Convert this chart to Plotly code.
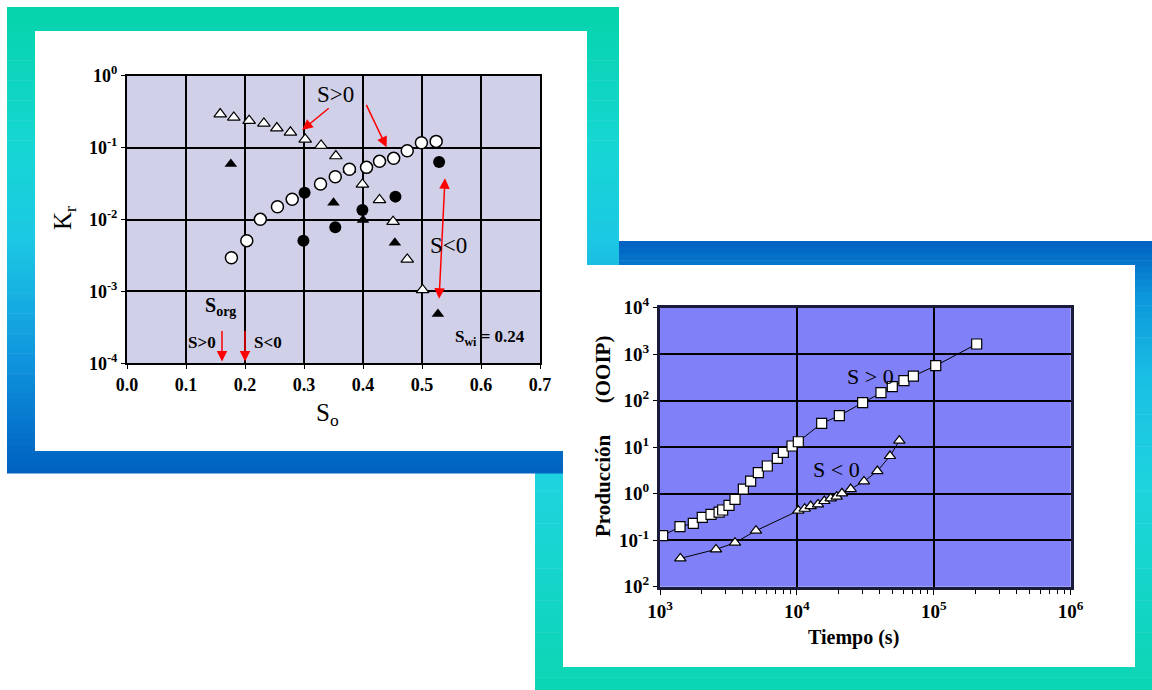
import plotly.graph_objects as go

W, H = 1152, 690

# ---------------- Left chart data (So vs Kr) ----------------
open_tri_so = [0.158, 0.181, 0.207, 0.232, 0.254, 0.277, 0.302, 0.329, 0.354, 0.377, 0.399, 0.428, 0.451, 0.475, 0.501]
open_tri_kr = [0.293, 0.263, 0.237, 0.217, 0.187, 0.163, 0.130, 0.107, 0.0764, 0.0499, 0.0308, 0.0187, 0.00933, 0.00279, 0.00105]

open_cir_so = [0.177, 0.203, 0.226, 0.255, 0.280, 0.328, 0.353, 0.377, 0.406, 0.428, 0.452, 0.475, 0.499, 0.524]
open_cir_kr = [0.00294, 0.00508, 0.01005, 0.01508, 0.0191, 0.0312, 0.0394, 0.0499, 0.0531, 0.0644, 0.0709, 0.0906, 0.117, 0.122]

fill_cir_so = [0.301, 0.299, 0.353, 0.399, 0.455, 0.529]
fill_cir_kr = [0.0236, 0.00508, 0.00778, 0.01355, 0.0208, 0.0630]

fill_tri_so = [0.176, 0.350, 0.400, 0.454, 0.527]
fill_tri_kr = [0.0591, 0.01714, 0.00984, 0.00476, 0.000485]

left_xticks = [0.0, 0.1, 0.2, 0.3, 0.4, 0.5, 0.6, 0.7]
left_xticktext = ["0.0", "0.1", "0.2", "0.3", "0.4", "0.5", "0.6", "0.7"]
left_yticks = [1e-4, 1e-3, 1e-2, 1e-1, 1e0]
left_yticktext = ["10<sup>-4</sup>", "10<sup>-3</sup>", "10<sup>-2</sup>", "10<sup>-1</sup>", "10<sup>0</sup>"]

# ---------------- Right chart data (time vs production) ----------------
sq_t = [1046, 1400, 1751, 2037, 2358, 2700, 2870, 3191, 3532, 4063, 4595, 5228, 6079, 7194, 7961, 9210,
        10240, 15170, 20420, 30220, 41120, 49740, 60520, 70920, 103300, 205700]
sq_p = [0.125, 0.195, 0.230, 0.310, 0.360, 0.40, 0.446, 0.561, 0.755, 1.26, 1.87, 2.83, 3.94, 5.75, 7.75, 10.6,
        13.1, 32.6, 47.6, 90.5, 148.6, 200, 269, 339, 566, 1656]

tr_t = [1408, 2565, 3532, 5024, 10240, 11400, 12610, 14270, 15860, 17650, 19520, 21350, 24710, 30910, 38700, 47870, 55990]
tr_p = [0.0406, 0.0635, 0.0883, 0.160, 0.431, 0.475, 0.543, 0.590, 0.696, 0.794, 0.861, 1.02, 1.26, 1.84, 3.07, 6.46, 13.8]

right_xticks = [1e3, 1e4, 1e5, 1e6]
right_xticktext = ["10<sup>3</sup>", "10<sup>4</sup>", "10<sup>5</sup>", "10<sup>6</sup>"]
right_yticks = [1e-2, 1e-1, 1e0, 1e1, 1e2, 1e3, 1e4]
right_yticktext = ["10<sup>2</sup>", "10<sup>-1</sup>", "10<sup>0</sup>", "10<sup>1</sup>", "10<sup>2</sup>", "10<sup>3</sup>", "10<sup>4</sup>"]
right_minor = [m * 10 ** e for e in (3, 4, 5) for m in range(2, 10)]

SERIF = "Liberation Serif"


def bold(lst):
    return ["<b>%s</b>" % s for s in lst]


def px(x):
    return x / W


def py(y):
    return 1 - y / H


def lerp_color(stops, t):
    for i in range(len(stops) - 1):
        t0, c0 = stops[i]
        t1, c1 = stops[i + 1]
        if t0 <= t <= t1:
            f = (t - t0) / (t1 - t0) if t1 > t0 else 0
            c = [round(c0[k] + (c1[k] - c0[k]) * f) for k in range(3)]
            return "rgb(%d,%d,%d)" % tuple(c)
    c = stops[-1][1]
    return "rgb(%d,%d,%d)" % tuple(c)


def gradient_rect(x0, y0, x1, y1, stops, n=70):
    out = []
    h = (y1 - y0) / n
    for i in range(n):
        t = (i + 0.5) / n
        out.append(dict(type="rect", xref="paper", yref="paper",
                        x0=px(x0), x1=px(x1), y0=py(y0 + i * h), y1=py(y0 + (i + 1) * h + 0.6),
                        fillcolor=lerp_color(stops, t), line=dict(width=0), layer="below"))
    return out


left_stops = [(0, (5, 212, 170)), (0.3, (22, 214, 212)), (0.5, (28, 200, 228)), (0.75, (16, 150, 222)), (1, (0, 96, 192))]
right_stops = [(0, (0, 96, 192)), (0.12, (12, 150, 218)), (0.3, (26, 190, 228)), (0.55, (30, 212, 222)), (1, (10, 214, 178))]

shapes = []
shapes += gradient_rect(535, 241, 1152, 690, right_stops)
shapes += gradient_rect(7, 7, 619, 473, left_stops)
shapes.append(dict(type="rect", xref="paper", yref="paper", x0=px(35), x1=px(587), y0=py(31), y1=py(451),
                   fillcolor="white", line=dict(width=0), layer="below"))
shapes.append(dict(type="rect", xref="paper", yref="paper", x0=px(563), x1=px(1135), y0=py(265), y1=py(667),
                   fillcolor="white", line=dict(width=0), layer="below"))
shapes.append(dict(type="rect", xref="x domain", yref="y domain", x0=0, x1=1, y0=0, y1=1,
                   fillcolor="#d0d0e8", line=dict(width=0), layer="below"))
shapes.append(dict(type="rect", xref="x2 domain", yref="y2 domain", x0=0, x1=1, y0=0, y1=1,
                   fillcolor="#8080f8", line=dict(width=0), layer="below"))

fig = go.Figure()

# Left chart traces
fig.add_trace(go.Scatter(x=open_tri_so, y=open_tri_kr, mode="markers", xaxis="x", yaxis="y",
                         marker=dict(symbol="triangle-up", size=11, color="white", line=dict(color="black", width=1.2))))
fig.add_trace(go.Scatter(x=open_cir_so, y=open_cir_kr, mode="markers", xaxis="x", yaxis="y",
                         marker=dict(symbol="circle", size=12, color="white", line=dict(color="black", width=1.5))))
fig.add_trace(go.Scatter(x=fill_cir_so, y=fill_cir_kr, mode="markers", xaxis="x", yaxis="y",
                         marker=dict(symbol="circle", size=12, color="black")))
fig.add_trace(go.Scatter(x=fill_tri_so, y=fill_tri_kr, mode="markers", xaxis="x", yaxis="y",
                         marker=dict(symbol="triangle-up", size=11, color="black")))

# Right chart traces
fig.add_trace(go.Scatter(x=sq_t, y=sq_p, mode="lines+markers", xaxis="x2", yaxis="y2",
                         line=dict(color="black", width=1),
                         marker=dict(symbol="square", size=10, color="white", line=dict(color="black", width=1.2))))
fig.add_trace(go.Scatter(x=tr_t, y=tr_p, mode="lines+markers", xaxis="x2", yaxis="y2",
                         line=dict(color="black", width=1),
                         marker=dict(symbol="triangle-up", size=10, color="white", line=dict(color="black", width=1.2))))

tickfont_l = dict(family=SERIF, size=18, color="black")
tickfont_r = dict(family=SERIF, size=19, color="black")

annotations = []


def text_ann(x, y, text, size, bold=False, angle=0):
    t = "<b>%s</b>" % text if bold else text
    annotations.append(dict(xref="paper", yref="paper", x=px(x), y=py(y), text=t, showarrow=False,
                            textangle=angle, font=dict(family=SERIF, size=size, color="black"),
                            xanchor="center", yanchor="middle"))


def red_arrow(x, y, ax, ay, both=False):
    d = dict(xref="x", yref="y", x=x, y=y, ax=ax, ay=ay, text="", showarrow=True,
             arrowhead=2, arrowsize=1.4, arrowwidth=1.5, arrowcolor="red")
    if both:
        d.update(arrowside="end+start", startarrowhead=2, startarrowsize=1.4)
    annotations.append(d)


# Left chart arrows (x in So, y in log10 Kr for log axis annotations)
red_arrow(0.297, -0.755, 28, -23)
red_arrow(0.440, -0.996, -21, -44)
red_arrow(0.539, -1.427, -6, 122, both=True)
red_arrow(0.161, -3.975, 0, -32)
red_arrow(0.200, -3.975, 0, -32)

# Left chart texts
text_ann(335, 95, "S>0", 23)
text_ann(448, 246, "S<0", 23)
text_ann(220, 306, "S<sub>org</sub>", 20, bold=True)
text_ann(202, 343, "S>0", 17, bold=True)
text_ann(268, 343, "S<0", 17, bold=True)
text_ann(490, 338, "S<sub>wi</sub> = 0.24", 17, bold=True)
text_ann(64, 218, "K<sub>r</sub>", 25, angle=-90)
text_ann(327, 414, "S<sub>o</sub>", 25)

# Right chart texts
text_ann(870, 376, "S > 0", 22)
text_ann(836, 469, "S < 0", 22)
text_ann(603, 437, "Producción      (OOIP)", 21, bold=True, angle=-90)
text_ann(853, 637, "Tiempo (s)", 20, bold=True)

fig.update_layout(
    width=W, height=H,
    margin=dict(l=0, r=0, t=0, b=0, pad=0, autoexpand=False),
    paper_bgcolor="white",
    plot_bgcolor="rgba(0,0,0,0)",
    showlegend=False,
    shapes=shapes,
    annotations=annotations,
    xaxis=dict(domain=[px(127), px(540)], range=[0, 0.7], anchor="y", automargin=False,
               tickvals=left_xticks, ticktext=bold(left_xticktext), tickfont=tickfont_l,
               showgrid=True, gridcolor="black", gridwidth=2, zeroline=False,
               showline=True, linecolor="black", linewidth=2, mirror=True,
               ticks="outside", ticklen=4, tickcolor="black"),
    yaxis=dict(domain=[py(363.3), py(75.7)], type="log", range=[-4, 0], anchor="x", automargin=False,
               tickvals=left_yticks, ticktext=bold(left_yticktext), tickfont=tickfont_l,
               showgrid=True, gridcolor="black", gridwidth=2, zeroline=False,
               showline=True, linecolor="black", linewidth=2, mirror=True,
               ticks="outside", ticklen=4, tickcolor="black"),
    xaxis2=dict(domain=[px(660), px(1070.7)], type="log", range=[3, 6], anchor="y2", automargin=False,
                tickvals=right_xticks, ticktext=bold(right_xticktext), tickfont=tickfont_r,
                showgrid=True, gridcolor="black", gridwidth=1.5, zeroline=False,
                showline=True, linecolor="#1a1a3a", linewidth=3, mirror=True,
                ticks="outside", ticklen=5, tickcolor="black",
                minor=dict(tickvals=right_minor, ticks="outside", ticklen=4, tickcolor="black", showgrid=False)),
    yaxis2=dict(domain=[py(586.7), py(307.7)], type="log", range=[-2, 4], anchor="x2", automargin=False,
                tickvals=right_yticks, ticktext=bold(right_yticktext), tickfont=tickfont_r,
                showgrid=True, gridcolor="black", gridwidth=1.5, zeroline=False,
                showline=True, linecolor="#1a1a3a", linewidth=3, mirror=True,
                ticks="outside", ticklen=4, tickcolor="black"),
)

fig.write_html("out.html", config={"displayModeBar": False},
               post_script="document.body.style.margin='0';document.body.style.overflow='hidden';")
